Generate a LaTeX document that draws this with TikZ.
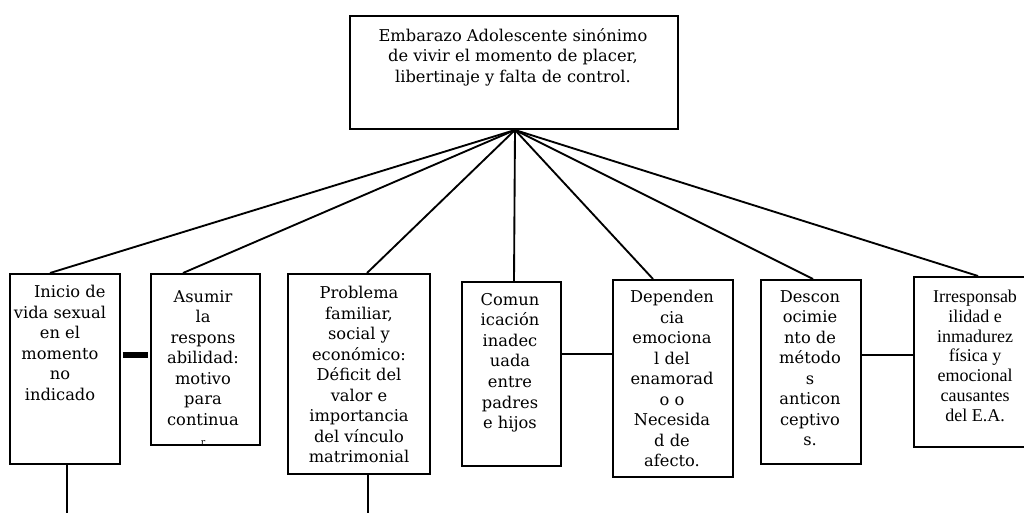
\documentclass[tikz,border=0pt]{standalone}
\usepackage{fontspec}
\setmainfont{DejaVu Serif}
\newfontfamily\timesfont{Liberation Serif}
\usetikzlibrary{calc}
\tikzset{
  box/.style={draw, line width=1.4pt, rectangle, inner sep=0pt, anchor=north west},
  txt/.style={align=center, anchor=north, inner sep=0pt, font=\fontsize{12.2}{15.4}\selectfont},
  conn/.style={line width=1.4pt},
  bar/.style={line width=4.5pt}
}
\begin{document}
\begin{tikzpicture}[x=0.75pt,y=-0.75pt]
\useasboundingbox (0,0) rectangle (1024,513);
% boxes
\node[box, minimum width=328*0.75pt, minimum height=113*0.75pt] (top) at (349,15) {};
\node[box, minimum width=110*0.75pt, minimum height=190*0.75pt] (b1) at (9,273) {};
\node[box, minimum width=109*0.75pt, minimum height=171*0.75pt] (b2) at (150,273) {};
\node[box, minimum width=142*0.75pt, minimum height=200*0.75pt] (b3) at (287,273) {};
\node[box, minimum width=99*0.75pt, minimum height=184*0.75pt] (b4) at (461,281) {};
\node[box, minimum width=120*0.75pt, minimum height=197*0.75pt] (b5) at (612,279) {};
\node[box, minimum width=100*0.75pt, minimum height=184*0.75pt] (b6) at (760,279) {};
\node[box, minimum width=130*0.75pt, minimum height=170*0.75pt] (b7) at (913,276) {};
% texts
\node[txt] (t0) at (513,28) {Embarazo Adolescente sinónimo\\de vivir el momento de placer,\\libertinaje y falta de control.};
\node[txt] (t1) at (60,285) {\hspace*{1.2em}Inicio de\\vida sexual\\en el\\momento\\no\\indicado};
\node[txt] (t2) at (203,290) {Asumir\\la\\respons\\abilidad:\\motivo\\para\\continua\\{\scriptsize r}};
\node[txt] (t3) at (359,286) {Problema\\familiar,\\social y\\económico:\\Déficit del\\valor e\\importancia\\del vínculo\\matrimonial};
\node[txt] (t4) at (510,293) {Comun\\icación\\inadec\\uada\\entre\\padres\\e hijos};
\node[txt] (t5) at (672,290) {Dependen\\cia\\emociona\\l del\\enamorad\\o o\\Necesida\\d de\\afecto.};
\node[txt] (t6) at (810,290) {Descon\\ocimie\\nto de\\método\\s\\anticon\\ceptivo\\s.};
\node[txt, font=\timesfont\fontsize{13.5}{14.8}\selectfont] (t7) at (975,290) {Irresponsab\\ilidad e\\inmadurez\\física y\\emocional\\causantes\\del E.A.};
% connectors from top
\coordinate (c) at (515,130);
\draw[conn] (c) -- ($(b1.north west)+(41,0)$);
\draw[conn] (c) -- ($(b2.north west)+(33,0)$);
\draw[conn] (c) -- ($(b3.north west)+(80,0)$);
\draw[conn] (c) -- ($(b4.north west)+(53,0)$);
\draw[conn] (c) -- ($(b5.north west)+(41,0)$);
\draw[conn] (c) -- ($(b6.north west)+(53,0)$);
\draw[conn] (c) -- ($(b7.north west)+(65,0)$);
% side connectors
\draw[bar] ($(b1.north east)+(2,82)$) -- ($(b2.north west)+(-2,82)$);
\draw[conn] ($(b4.north east)+(0,73)$) -- ($(b5.north west)+(0,75)$);
\draw[conn] ($(b6.north east)+(0,76)$) -- ($(b7.north west)+(0,79)$);
% lines down
\coordinate (e1) at (67,513);
\coordinate (e3) at (368,513);
\draw[conn] (b1.south -| e1) -- (e1);
\draw[conn] (b3.south -| e3) -- (e3);
\end{tikzpicture}
\end{document}
